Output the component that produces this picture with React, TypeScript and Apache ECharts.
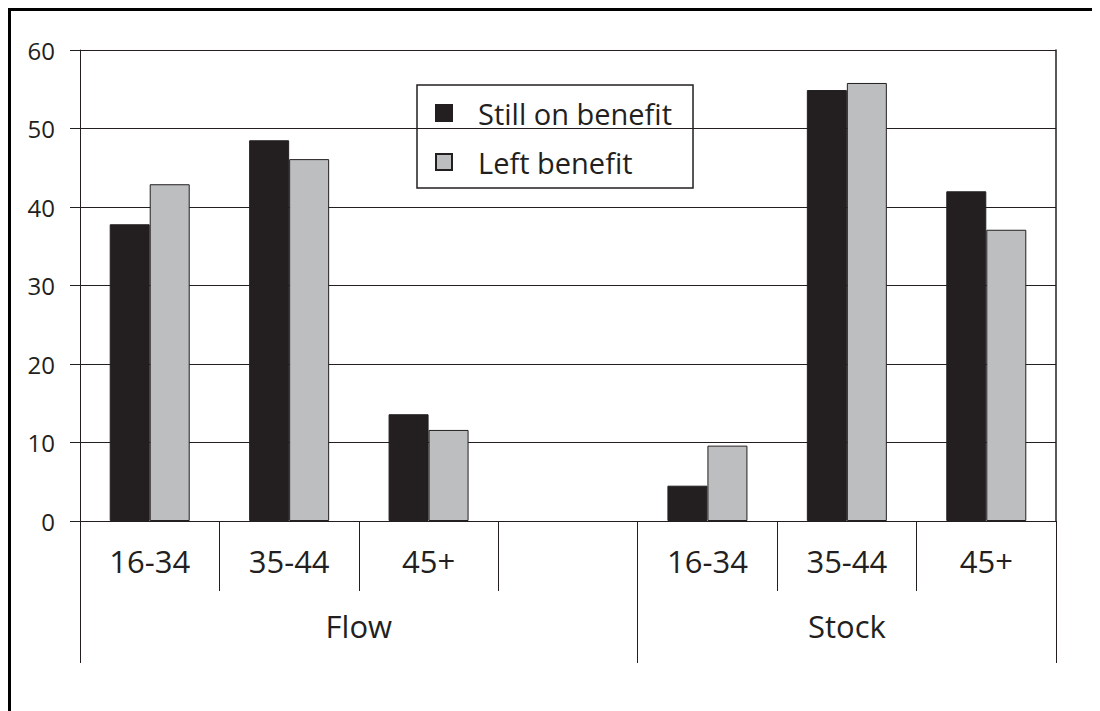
import React, { useEffect, useRef } from "react";
import * as echarts from "echarts";

const categories = ["16-34", "35-44", "45+", "", "16-34", "35-44", "45+"];
const stillOnBenefit = [37.8, 48.5, 13.6, null, 4.5, 54.9, 42.0];
const leftBenefit = [42.9, 46.1, 11.6, null, 9.6, 55.8, 37.1];
const groupNames = ["Flow", "Stock"];
const groupSpans = [4, 3];
const yTicks = { min: 0, max: 60, interval: 10 };

const INK = "#231f20";
const GREY = "#bcbec0";
const FONT = "'Open Sans', 'DejaVu Sans', sans-serif";

// Second-level axis on half-category points: label at the middle of each group, ticks at group borders.
function buildGroupAxis() {
  const n = categories.length * 2 + 1;
  const labels: string[] = new Array(n).fill("");
  const borders: number[] = [0];
  let start = 0;
  groupSpans.forEach((span, i) => {
    labels[start + span] = groupNames[i];
    start += span * 2;
    borders.push(start);
  });
  return { labels, borders };
}

export default function App() {
  const ref = useRef<HTMLDivElement>(null);
  useEffect(() => {
    if (!ref.current) return;
    const chart = echarts.init(ref.current, undefined, { renderer: "svg" });
    const group = buildGroupAxis();
    chart.setOption({
      animation: false,
      textStyle: { fontFamily: FONT, color: INK },
      grid: { left: 69, right: 44, top: 39, bottom: 190, containLabel: false },
      legend: {
        orient: "vertical",
        left: 406,
        top: 74,
        itemWidth: 16,
        itemHeight: 16,
        itemGap: 19,
        padding: [13, 21, 11, 18],
        borderColor: INK,
        borderWidth: 1.5,
        icon: "rect",
        textStyle: {
          fontFamily: FONT,
          fontSize: 29,
          color: INK,
          lineHeight: 30,
          padding: [0, 0, 0, 21],
        },
        data: ["Still on benefit", "Left benefit"],
      },
      xAxis: [
        {
          type: "category",
          position: "bottom",
          data: categories,
          boundaryGap: true,
          axisLine: { show: true, lineStyle: { color: INK, width: 1 } },
          axisTick: { show: true, interval: 0, length: 70, lineStyle: { color: INK, width: 1 } },
          axisLabel: { interval: 0, margin: 24, fontSize: 31, color: INK, fontFamily: FONT },
          splitLine: { show: false },
        },
        {
          type: "category",
          position: "bottom",
          data: group.labels,
          boundaryGap: false,
          axisLine: { show: false },
          axisTick: {
            show: true,
            interval: (i: number) => group.borders.indexOf(i) >= 0,
            length: 142,
            lineStyle: { color: INK, width: 1 },
          },
          axisLabel: { interval: 0, margin: 89, fontSize: 31, color: INK, fontFamily: FONT },
          splitLine: { show: false },
        },
      ],
      yAxis: [
        {
          type: "value",
          position: "left",
          min: yTicks.min,
          max: yTicks.max,
          interval: yTicks.interval,
          axisLine: { show: true, lineStyle: { color: INK, width: 1 } },
          axisTick: { show: true, length: 10, lineStyle: { color: INK, width: 1 } },
          axisLabel: { margin: 25, fontSize: 24, color: INK, fontFamily: FONT },
          splitLine: { show: true, lineStyle: { color: INK, width: 1 } },
        },
        {
          type: "value",
          position: "right",
          min: yTicks.min,
          max: yTicks.max,
          interval: yTicks.interval,
          axisLine: { show: true, lineStyle: { color: INK, width: 1.5 } },
          axisTick: { show: false },
          axisLabel: { show: false },
          splitLine: { show: false },
        },
      ],
      series: [
        {
          name: "Still on benefit",
          type: "bar",
          xAxisIndex: 0,
          yAxisIndex: 0,
          data: stillOnBenefit,
          barWidth: 40,
          barGap: "0%",
          itemStyle: { color: INK, borderColor: INK, borderWidth: 1 },
        },
        {
          name: "Left benefit",
          type: "bar",
          xAxisIndex: 0,
          yAxisIndex: 0,
          data: leftBenefit,
          barWidth: 40,
          barGap: "0%",
          itemStyle: { color: GREY, borderColor: INK, borderWidth: 1 },
        },
      ],
    });
    return () => chart.dispose();
  }, []);
  return (
    <div
      ref={ref}
      style={{
        width: 1092,
        height: 703,
        boxSizing: "border-box",
        borderLeft: "3px solid #000",
        borderTop: "3px solid #000",
        background: "#fff",
      }}
    />
  );
}
